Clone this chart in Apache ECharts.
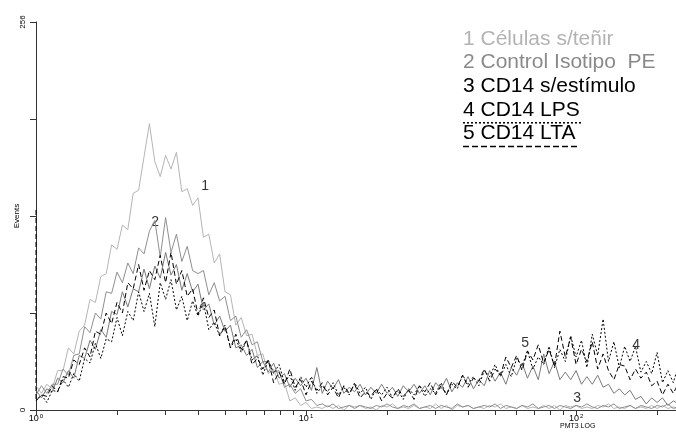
<!DOCTYPE html>
<html>
<head>
<meta charset="utf-8">
<script src="https://cdn.jsdelivr.net/npm/echarts@6/dist/echarts.min.js"></script>
<style>
html, body { margin: 0; padding: 0; background: #fff; }
#chart { width: 676px; height: 432px; }
</style>
</head>
<body>
<div id="chart"></div>
<script>
// histogram channels, spaced 0.02 decade on the log axis
const STEP = 0.02;

// 1 Células s/teñir
const celulas = [
  16, 11, 17, 14, 26, 26, 41, 37, 52, 56,
  73, 71, 88, 90, 109, 106, 122, 119, 143, 145,
  167, 189, 164, 154, 168, 159, 170, 144, 146, 135,
  140, 114, 116, 97, 103, 78, 76, 56, 61, 49,
  50, 36, 37, 24, 27, 17, 18, 6, 8, 3,
  5, 1, 2, 1, 3, 1, 3, 0, 3, 2,
  3, 1, 2, 0, 3, 2, 4, 1, 2, 1,
  3, 1, 2, 1, 4, 1, 3, 0, 3, 2,
  3, 1, 2, 1, 3, 2, 4, 1, 2, 1,
  3, 1, 2, 1, 3, 1, 3, 0, 3, 2,
  3, 1, 2, 1, 3, 2, 4, 1, 2, 1,
  3, 1, 2, 1, 3, 1, 3, 1, 2, 1
];
// 2 Control Isotipo PE
const isotipo = [
  10, 16, 11, 17, 17, 27, 23, 36, 37, 55,
  51, 64, 60, 78, 77, 91, 84, 97, 90, 107,
  103, 118, 125, 101, 127, 104, 116, 98, 108, 92,
  90, 92, 76, 84, 72, 75, 59, 62, 48, 53,
  43, 45, 32, 32, 25, 26, 15, 17, 11, 14,
  6, 7, 3, 4, 2, 4, 1, 2, 3, 1,
  3, 2, 1, 3, 2, 4, 2, 1, 3, 2,
  4, 1, 2, 3, 1, 3, 2, 1, 4, 2,
  3, 1, 2, 3, 2, 4, 1, 3, 2, 1,
  3, 2, 4, 1, 2, 3, 1, 3, 2, 1,
  3, 2, 4, 2, 1, 3, 2, 4, 1, 2,
  3, 1, 3, 2, 1, 3, 2, 4, 1, 2
];
// 3 CD14 s/estímulo
const sinEstimulo = [
  13, 8, 14, 12, 21, 18, 26, 21, 36, 34,
  46, 40, 53, 48, 65, 63, 78, 68, 80, 78,
  93, 80, 95, 87, 104, 89, 96, 79, 90, 78,
  83, 66, 70, 56, 62, 52, 56, 41, 43, 36,
  40, 28, 32, 25, 31, 21, 24, 15, 21, 16,
  21, 13, 28, 11, 19, 14, 20, 11, 15, 12,
  17, 10, 15, 11, 17, 11, 15, 9, 16, 12,
  17, 11, 16, 10, 18, 14, 21, 12, 18, 15,
  22, 14, 20, 16, 26, 19, 25, 17, 28, 23,
  31, 21, 29, 20, 37, 24, 32, 20, 25, 20,
  26, 17, 22, 17, 23, 15, 17, 11, 14, 10,
  13, 7, 9, 4, 8, 5, 8, 3, 6, 4
];
// 4 CD14 LPS
const lps = [
  6, 10, 5, 13, 12, 20, 15, 24, 19, 34,
  31, 44, 34, 47, 45, 61, 49, 65, 59, 78,
  65, 77, 55, 84, 73, 86, 66, 75, 59, 72,
  62, 71, 53, 58, 49, 56, 41, 47, 38, 46,
  33, 36, 23, 33, 24, 30, 18, 23, 13, 22,
  15, 22, 11, 16, 12, 18, 10, 15, 10, 18,
  11, 15, 7, 14, 10, 15, 8, 13, 7, 14,
  10, 16, 9, 14, 11, 18, 10, 17, 14, 23,
  17, 22, 16, 26, 22, 30, 22, 30, 22, 34,
  29, 39, 27, 35, 30, 42, 28, 40, 32, 49,
  35, 46, 28, 50, 36, 60, 32, 45, 28, 42,
  32, 42, 25, 32, 24, 38, 18, 26, 18, 30
];
// 5 CD14 LTA (first channel is high, drawn as a spike on the axis)
const ltaFirstChannel = 132;
const lta = [
  6, 10, 9, 16, 12, 22, 21, 33, 30, 41,
  35, 52, 50, 64, 57, 71, 64, 84, 80, 96,
  79, 92, 86, 102, 84, 104, 83, 92, 75, 80,
  63, 74, 61, 66, 49, 55, 41, 50, 40, 46,
  30, 34, 27, 33, 18, 25, 17, 27, 15, 20,
  10, 19, 13, 18, 10, 15, 8, 16, 11, 17,
  8, 12, 9, 14, 6, 11, 8, 14, 9, 13,
  7, 16, 12, 18, 10, 16, 10, 19, 15, 23,
  15, 21, 19, 27, 19, 27, 23, 35, 28, 36,
  26, 39, 33, 43, 31, 40, 29, 52, 35, 48,
  30, 40, 32, 45, 27, 37, 26, 20, 30, 29,
  20, 27, 21, 25, 16, 19, 10, 17, 11, 18
];

// axis
const tickChannels = [1, 2, 3, 4, 5, 6, 7, 8, 9, 10, 20, 30, 40, 50, 60, 70, 80, 90, 100, 200];
const labelDecades = [0, 1, 2];
const xMaxDecade = 2.37;
const yMax = 256;
const yStep = 64;

// curve numbers written on the plot: [decade, events, text]
const curveLabels = [
  [0.626, 148, '1'],
  [0.441, 124, '2'],
  [2.004, 8, '3'],
  [2.222, 43, '4'],
  [1.811, 44, '5']
];

const legendRows = [
  { text: '1 Células s/teñir', color: '#b3b3b3', under: null },
  { text: '2 Control Isotipo  PE', color: '#8a8a8a', under: null },
  { text: '3 CD14 s/estímulo', color: '#000', under: null },
  { text: '4 CD14 LPS', color: '#000', under: [2, 2] },
  { text: '5 CD14 LTA', color: '#000', under: [6, 3] }
];

const FONT = 'Arial, "Liberation Sans", sans-serif';

function toPairs(values) {
  return values.map((v, i) => [+(i * STEP).toFixed(3), v]);
}

const curves = [
  { name: '1', data: toPairs(celulas), color: '#b5b5b5', dash: 'solid' },
  { name: '2', data: toPairs(isotipo), color: '#8e8e8e', dash: 'solid' },
  { name: '3', data: toPairs(sinEstimulo), color: '#7a7a7a', dash: 'solid' },
  { name: '4', data: toPairs(lps), color: '#000', dash: [2, 2] },
  { name: '5', data: [[0, ltaFirstChannel]].concat(toPairs(lta)), color: '#000', dash: [5, 3] }
];

const chart = echarts.init(document.getElementById('chart'), null, { renderer: 'canvas' });

// legend block, top right
const legendGraphics = [];
legendRows.forEach((row, k) => {
  const cy = 40.5 + k * 23.6;
  legendGraphics.push({
    type: 'text', left: 463, top: cy - 12,
    style: { text: row.text, fill: row.color, font: '21px ' + FONT }
  });
  if (row.under) {
    legendGraphics.push({
      type: 'line',
      shape: { x1: 463, y1: cy + 11.5, x2: 463 + (k === 3 ? 119 : 116), y2: cy + 11.5 },
      style: { stroke: '#000', lineWidth: 1.5, lineDash: row.under }
    });
  }
});

chart.setOption({
  animation: false,
  backgroundColor: '#fff',
  textStyle: { fontFamily: FONT },
  grid: { left: 36, right: 0, top: 22, bottom: 22, containLabel: false, outerBoundsMode: 'none' },
  xAxis: {
    type: 'value',
    min: 0,
    max: xMaxDecade,
    axisLine: { show: true, lineStyle: { color: '#333', width: 1 } },
    axisTick: { show: true, length: 5, customValues: tickChannels.map(c => Math.log10(c)), lineStyle: { color: '#333' } },
    axisLabel: {
      customValues: labelDecades,
      margin: 3,
      color: '#000',
      formatter: v => '{b|10}{s|' + Math.round(v) + '}',
      rich: {
        b: { fontSize: 9, fontFamily: FONT, color: '#000' },
        s: { fontSize: 6, fontFamily: FONT, color: '#000', padding: [0, 0, 5, 1] }
      }
    },
    splitLine: { show: false }
  },
  yAxis: {
    type: 'value',
    min: 0,
    max: yMax,
    interval: yStep,
    axisLine: { show: true, lineStyle: { color: '#333', width: 1 } },
    axisTick: { show: true, length: 6, lineStyle: { color: '#333' } },
    axisLabel: {
      rotate: 90,
      fontSize: 8,
      margin: 9,
      color: '#000',
      formatter: v => (v === 0 || v === yMax) ? String(v) : ''
    },
    splitLine: { show: false }
  },
  series: curves.map(c => ({
    type: 'line',
    name: c.name,
    data: c.data,
    showSymbol: false,
    symbol: 'none',
    clip: true,
    lineStyle: { color: c.color, width: 1, type: c.dash },
    emphasis: { disabled: true }
  })).concat([{
    type: 'scatter',
    data: curveLabels,
    symbolSize: 0,
    silent: true,
    label: {
      show: true,
      position: 'inside',
      formatter: p => p.data[2],
      fontSize: 14,
      fontFamily: FONT,
      color: '#000'
    }
  }]),
  graphic: legendGraphics.concat([
    {
      type: 'text', left: 560, top: 423,
      style: { text: 'PMT3 LOG', fill: '#000', font: '7px ' + FONT }
    },
    {
      type: 'text', x: 17, y: 216, rotation: Math.PI / 2,
      style: { text: 'Events', fill: '#000', font: '8px ' + FONT, align: 'center', verticalAlign: 'middle' }
    }
  ])
});
</script>
</body>
</html>
